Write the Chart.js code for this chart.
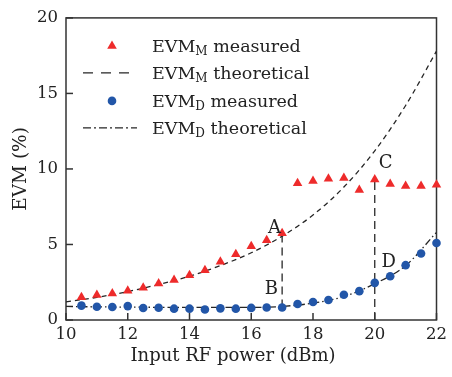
<!DOCTYPE html>
<html>
<head>
<meta charset="utf-8">
<script src="https://cdn.jsdelivr.net/npm/chart.js@4/dist/chart.umd.min.js"></script>
<style>
html,body{margin:0;padding:0;background:#fff;}
#wrap{width:452px;height:377px;position:relative;}
</style>
</head>
<body>
<div id="wrap"><canvas id="c" width="452" height="377"></canvas></div>
<script>
// ---- data ----
const powerMeasured = [10.5,11,11.5,12,12.5,13,13.5,14,14.5,15,15.5,16,16.5,17,17.5,18,18.5,19,19.5,20,20.5,21,21.5,22];
const evmMMeasured = [1.5,1.65,1.76,1.93,2.13,2.42,2.64,2.97,3.3,3.85,4.35,4.88,5.28,5.74,9.06,9.2,9.35,9.4,8.6,9.3,9.0,8.87,8.87,8.96];
const evmDMeasured = [0.95,0.88,0.86,0.92,0.79,0.81,0.75,0.75,0.7,0.77,0.75,0.8,0.83,0.83,1.06,1.19,1.32,1.67,1.91,2.46,2.9,3.63,4.4,5.1];
const powerTheory = [10,11,12,13,14,15,16,17,18,19,20,21,22];
const evmMTheory = [1.2,1.5,1.88,2.35,2.9,3.6,4.45,5.55,6.95,8.8,11.2,14.2,17.8];
const evmDTheory = [0.9,0.87,0.85,0.84,0.83,0.83,0.83,0.9,1.12,1.55,2.4,3.6,5.8];
const xTicks = [10,12,14,16,18,20,22];
const yTicks = [0,5,10,15,20];
const xTitle = 'Input RF power (dBm)';
const yTitle = 'EVM (%)';
const markLabels = ['A','B','C','D'];
const markX = [16.75,16.65,20.35,20.45];
const markY = [6.1,2.0,10.4,3.85];
const guideAt = [17,20];

const FONT = '"DejaVu Serif", "Liberation Serif", serif';
const RED = '#ee2b2b', BLUE = '#2256a8', INK = '#262626';

const pts = (xs, ys) => xs.map((x,i)=>({x:x,y:ys[i]}));
const idx17 = powerMeasured.indexOf(guideAt[0]);
const idx20 = powerMeasured.indexOf(guideAt[1]);

const datasets = [
  {label:'EVMM measured', type:'scatter', data:pts(powerMeasured, evmMMeasured), pointStyle:'triangle', pointRadius:5.5, backgroundColor:RED, borderColor:RED, borderWidth:0, showLine:false, clip:false},
  {label:'EVMD measured', type:'scatter', data:pts(powerMeasured, evmDMeasured), pointStyle:'circle', pointRadius:4.3, backgroundColor:BLUE, borderColor:BLUE, borderWidth:0, showLine:false, clip:false},
  {label:'EVMM theoretical', type:'line', data:pts(powerTheory, evmMTheory), borderColor:INK, borderWidth:1.3, borderDash:[5,4], pointRadius:0, cubicInterpolationMode:'monotone', fill:false},
  {label:'EVMD theoretical', type:'line', data:pts(powerTheory, evmDTheory), borderColor:INK, borderWidth:1.3, borderDash:[7,3,1.5,3], pointRadius:0, cubicInterpolationMode:'monotone', fill:false},
  {label:'guideA', type:'line', data:[{x:guideAt[0],y:evmDMeasured[idx17]},{x:guideAt[0],y:evmMMeasured[idx17]}], borderColor:INK, borderWidth:1.3, borderDash:[8,5], pointRadius:0},
  {label:'guideC', type:'line', data:[{x:guideAt[1],y:0},{x:guideAt[1],y:evmMMeasured[idx20]}], borderColor:INK, borderWidth:1.3, borderDash:[8,5], pointRadius:0}
];

const legendItems = [
  {main:'EVM', sub:'M', rest:' measured', kind:'tri'},
  {main:'EVM', sub:'M', rest:' theoretical', kind:'dash'},
  {main:'EVM', sub:'D', rest:' measured', kind:'dot'},
  {main:'EVM', sub:'D', rest:' theoretical', kind:'dashdot'}
];

const framePlugin = {
  id:'frame',
  beforeDatasetsDraw(chart){
    const {ctx, chartArea:a} = chart;
    ctx.save();
    ctx.strokeStyle = '#333'; ctx.lineWidth = 1.5; ctx.setLineDash([]);
    ctx.strokeRect(a.left, a.top, a.right-a.left, a.bottom-a.top);
    ctx.restore();
  },
  afterDraw(chart){
    const {ctx, chartArea:a, scales} = chart;
    ctx.save();
    ctx.strokeStyle = '#333'; ctx.lineWidth = 1.5; ctx.setLineDash([]);
    xTicks.forEach(v=>{ const px = scales.x.getPixelForValue(v); ctx.beginPath(); ctx.moveTo(px,a.bottom); ctx.lineTo(px,a.bottom-7); ctx.stroke(); });
    yTicks.forEach(v=>{ const py = scales.y.getPixelForValue(v); ctx.beginPath(); ctx.moveTo(a.left,py); ctx.lineTo(a.left+7,py); ctx.stroke(); });
    ctx.fillStyle = '#222'; ctx.font = '18px ' + FONT; ctx.textAlign='center'; ctx.textBaseline='middle';
    ctx.fillText(xTitle, 233, 356);
    markLabels.forEach((t,i)=>{ ctx.fillText(t, scales.x.getPixelForValue(markX[i]), scales.y.getPixelForValue(markY[i])); });
    const mx = a.left + 46, tx = a.left + 86;
    const rows = [28,55,83,110];
    legendItems.forEach((it,i)=>{
      const y = a.top + rows[i];
      ctx.setLineDash([]);
      if (it.kind==='tri'){
        ctx.fillStyle = RED; ctx.beginPath();
        ctx.moveTo(mx, y-5.5); ctx.lineTo(mx+4.8, y+2.8); ctx.lineTo(mx-4.8, y+2.8); ctx.closePath(); ctx.fill();
      } else if (it.kind==='dot'){
        ctx.fillStyle = BLUE; ctx.beginPath(); ctx.arc(mx, y, 4.3, 0, Math.PI*2); ctx.fill();
      } else {
        ctx.strokeStyle = INK; ctx.lineWidth = 1.3;
        ctx.setLineDash(it.kind==='dash' ? [10,8] : [8,3,2,3]);
        ctx.beginPath(); ctx.moveTo(a.left+17, y); ctx.lineTo(a.left+71, y); ctx.stroke();
        ctx.setLineDash([]);
      }
      ctx.fillStyle = '#222'; ctx.textAlign='left'; ctx.textBaseline='alphabetic';
      ctx.font = '17.5px ' + FONT;
      let x = tx; const base = y + 6;
      ctx.fillText(it.main, x, base); x += ctx.measureText(it.main).width;
      ctx.font = '12px ' + FONT;
      ctx.fillText(it.sub, x, base + 3); x += ctx.measureText(it.sub).width;
      ctx.font = '17.5px ' + FONT;
      ctx.fillText(it.rest, x, base);
    });
    ctx.restore();
  }
};

new Chart(document.getElementById('c'), {
  type:'scatter',
  data:{datasets:datasets},
  options:{
    responsive:false, animation:false, devicePixelRatio:1,
    layout:{padding:{top:17,right:11,left:0,bottom:0}},
    plugins:{legend:{display:false}, tooltip:{enabled:false}},
    scales:{
      x:{type:'linear', min:10, max:22,
        afterBuildTicks(s){ s.ticks = xTicks.map(v=>({value:v})); },
        afterFit(s){ s.height = 57; },
        grid:{display:false, drawTicks:false}, border:{display:false},
        ticks:{padding:5, color:'#222', font:{family:FONT, size:16.5}, maxRotation:0, autoSkip:false},
        title:{display:false}
      },
      y:{type:'linear', min:0, max:20,
        afterBuildTicks(s){ s.ticks = yTicks.map(v=>({value:v})); },
        afterFit(s){ s.width = 66; },
        grid:{display:false, drawTicks:false}, border:{display:false},
        ticks:{padding:8, color:'#222', font:{family:FONT, size:16.5}},
        title:{display:true, text:yTitle, color:'#222', font:{family:FONT, size:18.5}, padding:{top:10,bottom:0}}
      }
    }
  },
  plugins:[framePlugin]
});
</script>
</body>
</html>
